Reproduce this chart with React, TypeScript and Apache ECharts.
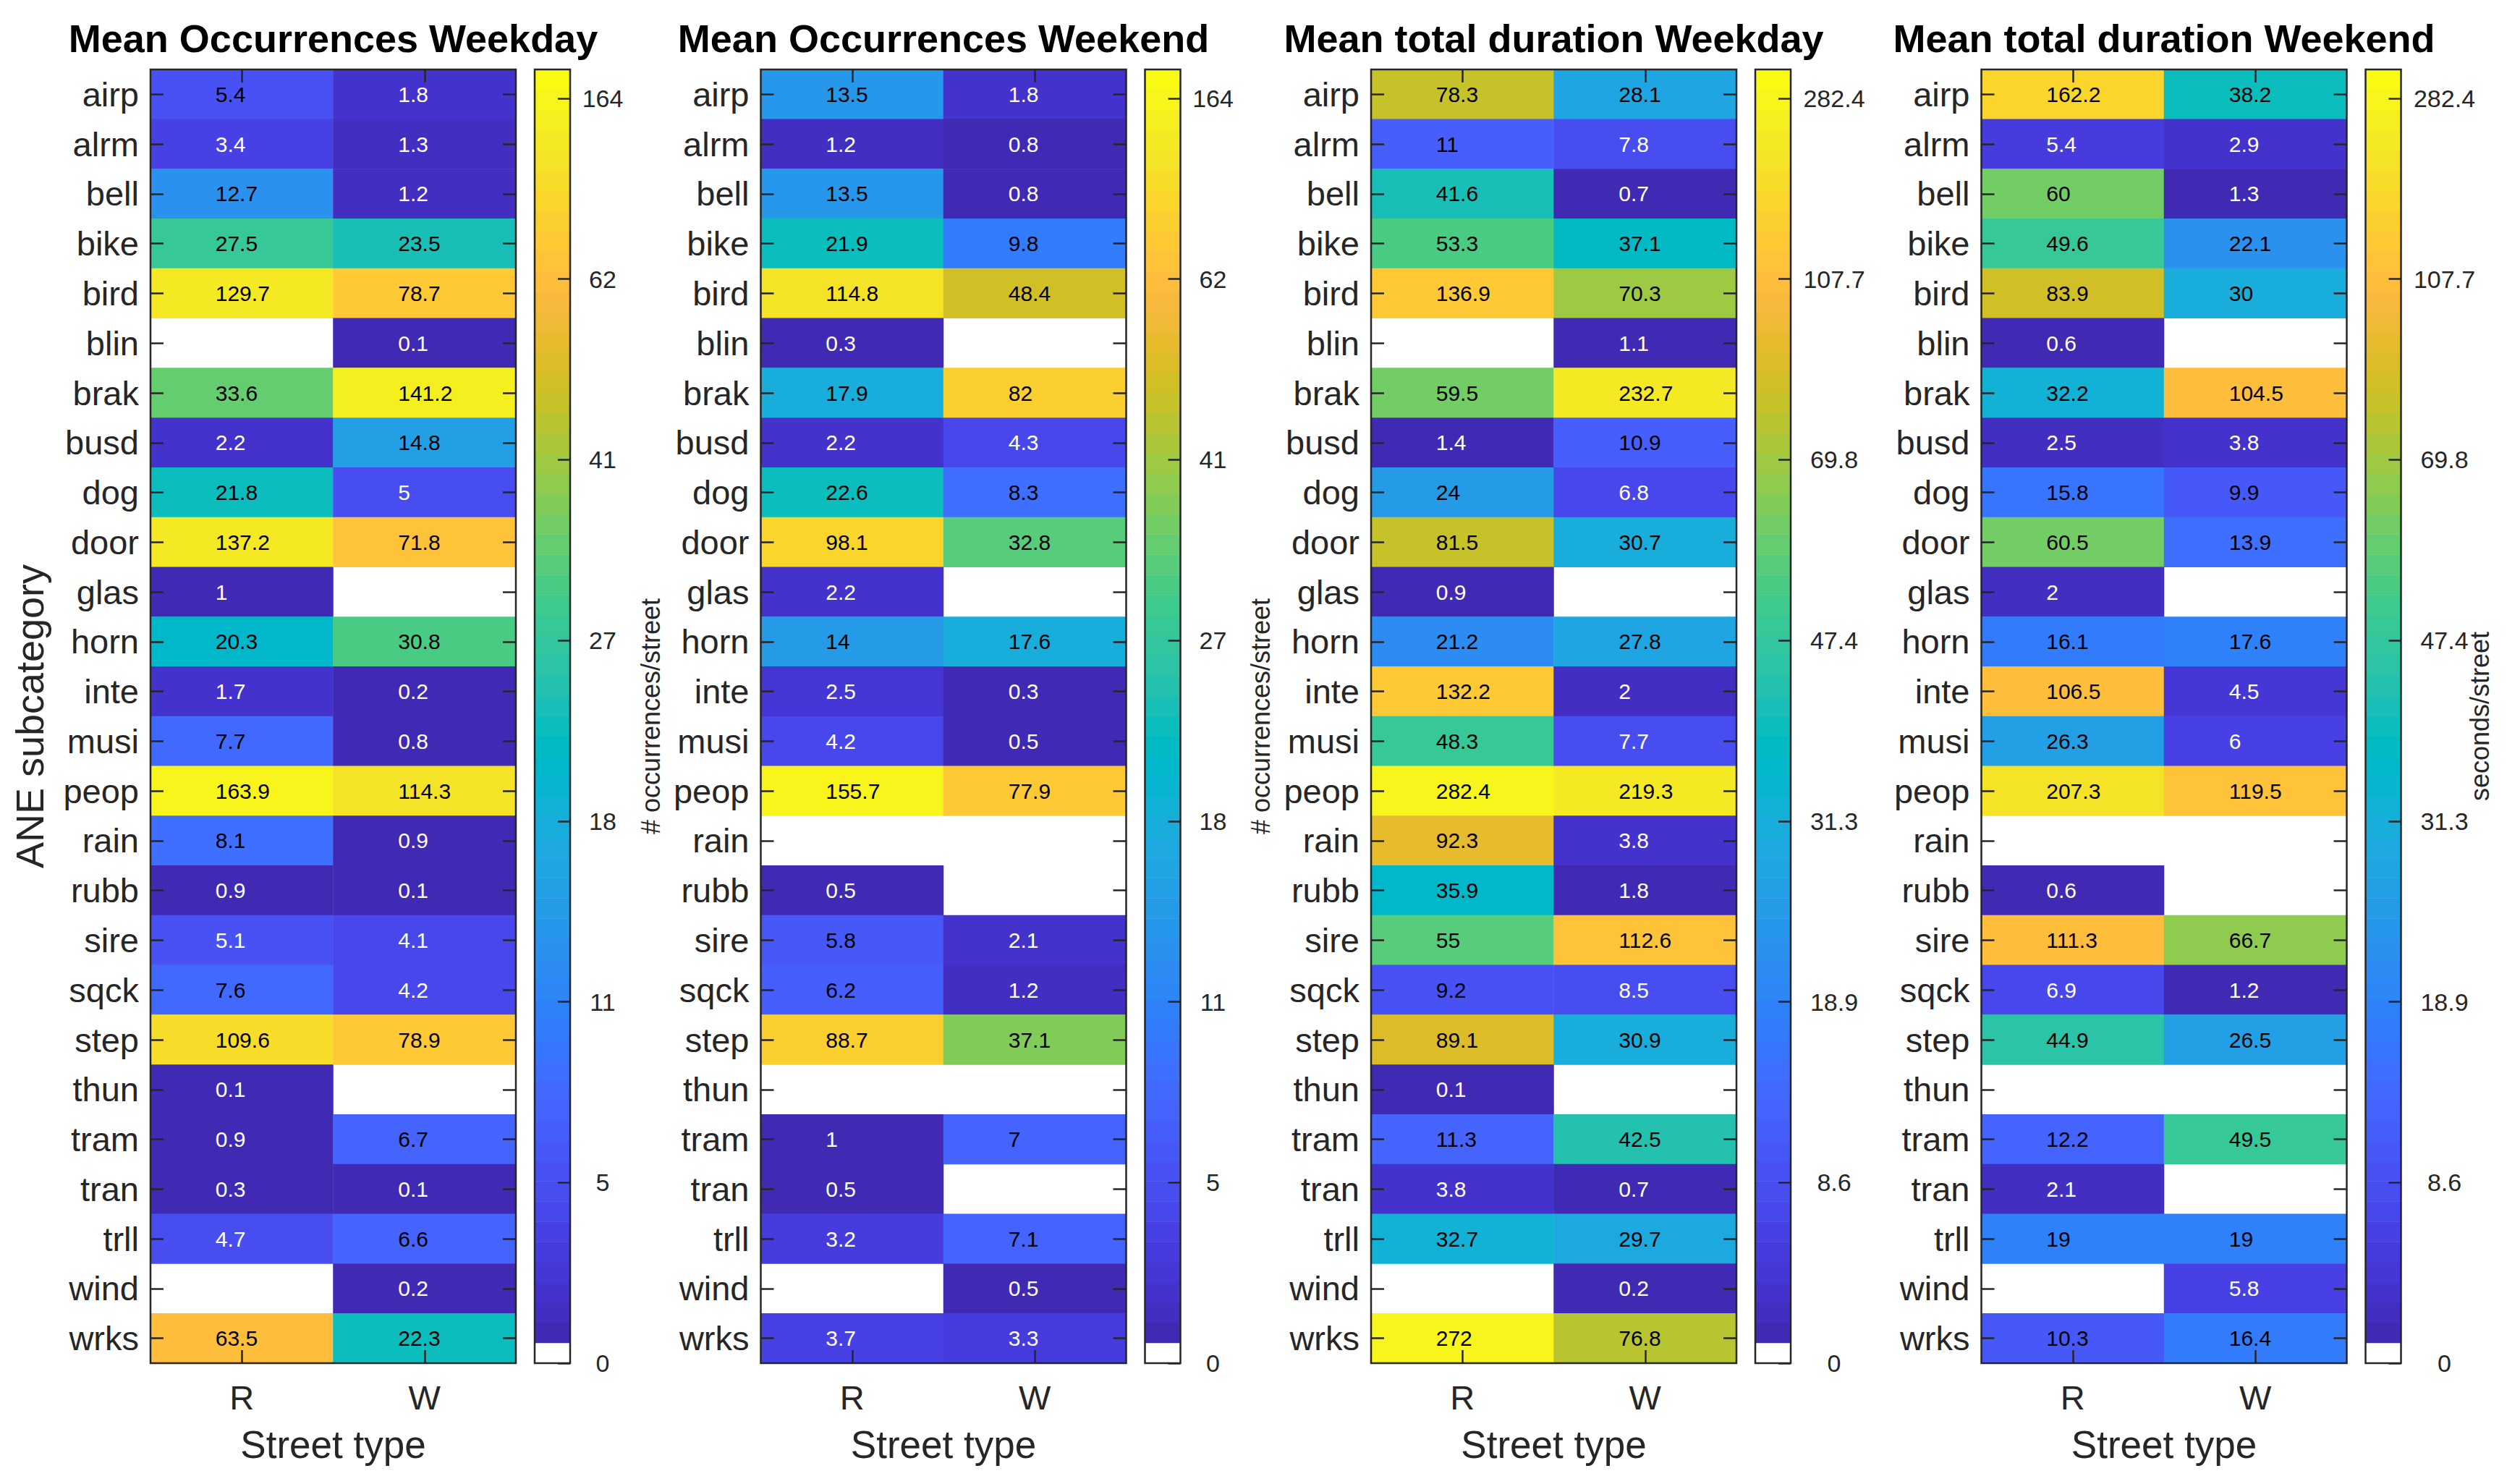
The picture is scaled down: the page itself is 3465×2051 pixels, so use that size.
import React, { useEffect, useRef } from "react";
import * as echarts from "echarts";

// ---------- data ----------
const categories = [
  "airp", "alrm", "bell", "bike", "bird", "blin", "brak", "busd", "dog", "door",
  "glas", "horn", "inte", "musi", "peop", "rain", "rubb", "sire", "sqck", "step",
  "thun", "tram", "tran", "trll", "wind", "wrks",
];
const streetTypes = ["R", "W"];

const occWeekdayR = [5.4, 3.4, 12.7, 27.5, 129.7, null, 33.6, 2.2, 21.8, 137.2, 1, 20.3, 1.7, 7.7, 163.9, 8.1, 0.9, 5.1, 7.6, 109.6, 0.1, 0.9, 0.3, 4.7, null, 63.5];
const occWeekdayW = [1.8, 1.3, 1.2, 23.5, 78.7, 0.1, 141.2, 14.8, 5, 71.8, null, 30.8, 0.2, 0.8, 114.3, 0.9, 0.1, 4.1, 4.2, 78.9, null, 6.7, 0.1, 6.6, 0.2, 22.3];

const occWeekendR = [13.5, 1.2, 13.5, 21.9, 114.8, 0.3, 17.9, 2.2, 22.6, 98.1, 2.2, 14, 2.5, 4.2, 155.7, null, 0.5, 5.8, 6.2, 88.7, null, 1, 0.5, 3.2, null, 3.7];
const occWeekendW = [1.8, 0.8, 0.8, 9.8, 48.4, null, 82, 4.3, 8.3, 32.8, null, 17.6, 0.3, 0.5, 77.9, null, null, 2.1, 1.2, 37.1, null, 7, null, 7.1, 0.5, 3.3];

const durWeekdayR = [78.3, 11, 41.6, 53.3, 136.9, null, 59.5, 1.4, 24, 81.5, 0.9, 21.2, 132.2, 48.3, 282.4, 92.3, 35.9, 55, 9.2, 89.1, 0.1, 11.3, 3.8, 32.7, null, 272];
const durWeekdayW = [28.1, 7.8, 0.7, 37.1, 70.3, 1.1, 232.7, 10.9, 6.8, 30.7, null, 27.8, 2, 7.7, 219.3, 3.8, 1.8, 112.6, 8.5, 30.9, null, 42.5, 0.7, 29.7, 0.2, 76.8];

const durWeekendR = [162.2, 5.4, 60, 49.6, 83.9, 0.6, 32.2, 2.5, 15.8, 60.5, 2, 16.1, 106.5, 26.3, 207.3, null, 0.6, 111.3, 6.9, 44.9, null, 12.2, 2.1, 19, null, 10.3];
const durWeekendW = [38.2, 2.9, 1.3, 22.1, 30, null, 104.5, 3.8, 9.9, 13.9, null, 17.6, 4.5, 6, 119.5, null, null, 66.7, 1.2, 26.5, null, 49.5, null, 19, 5.8, 16.4];

const occTicks = [0, 5, 11, 18, 27, 41, 62, 164];
const durTicks = [0, 8.6, 18.9, 31.3, 47.4, 69.8, 107.7, 282.4];

const titles = ["Mean Occurrences Weekday", "Mean Occurrences Weekend", "Mean total duration Weekday", "Mean total duration Weekend"];

// ---------- colormap (parula, 64) ----------
const parula: number[][] = [
  [0.2422, 0.1504, 0.6603], [0.2504, 0.165, 0.7076], [0.2578, 0.1818, 0.7511], [0.2647, 0.1978, 0.7952],
  [0.2706, 0.2147, 0.8364], [0.2751, 0.2342, 0.871], [0.2783, 0.2559, 0.8991], [0.2803, 0.2782, 0.9221],
  [0.2813, 0.3006, 0.9414], [0.281, 0.3228, 0.9579], [0.2795, 0.3447, 0.9717], [0.276, 0.3667, 0.9829],
  [0.2699, 0.3892, 0.9906], [0.2602, 0.4123, 0.9952], [0.244, 0.4358, 0.9988], [0.2206, 0.4603, 0.9973],
  [0.1963, 0.4847, 0.9892], [0.1834, 0.5074, 0.9798], [0.1786, 0.5289, 0.9682], [0.1764, 0.5499, 0.952],
  [0.1687, 0.5703, 0.9359], [0.154, 0.5902, 0.9218], [0.146, 0.6091, 0.9079], [0.138, 0.6276, 0.8973],
  [0.1248, 0.6459, 0.8883], [0.1113, 0.6635, 0.8763], [0.0952, 0.6798, 0.8598], [0.0689, 0.6948, 0.8394],
  [0.0297, 0.7082, 0.8163], [0.0036, 0.7203, 0.7917], [0.0067, 0.7312, 0.766], [0.0433, 0.7411, 0.7394],
  [0.0964, 0.75, 0.712], [0.1408, 0.7584, 0.6842], [0.1717, 0.767, 0.6554], [0.1938, 0.7758, 0.6251],
  [0.2161, 0.7843, 0.5923], [0.247, 0.7918, 0.5567], [0.2906, 0.7973, 0.5188], [0.3406, 0.8008, 0.4789],
  [0.3909, 0.8029, 0.4354], [0.4456, 0.8024, 0.3909], [0.5044, 0.7993, 0.348], [0.5616, 0.7942, 0.3045],
  [0.6174, 0.7876, 0.2612], [0.672, 0.7793, 0.2227], [0.7242, 0.7698, 0.191], [0.7738, 0.7598, 0.1646],
  [0.8203, 0.7498, 0.1535], [0.8634, 0.7406, 0.1596], [0.9035, 0.733, 0.1774], [0.9393, 0.7288, 0.21],
  [0.9728, 0.7298, 0.2394], [0.9956, 0.7434, 0.2371], [0.997, 0.7659, 0.2199], [0.9952, 0.7893, 0.2028],
  [0.9892, 0.8136, 0.1885], [0.9786, 0.8386, 0.1766], [0.9676, 0.8639, 0.1643], [0.961, 0.889, 0.1537],
  [0.9597, 0.9135, 0.1423], [0.9628, 0.9373, 0.1265], [0.9691, 0.9606, 0.1064], [0.9769, 0.9839, 0.0805],
];
const toRgb = (c: number[]) => `rgb(${Math.round(c[0] * 255)},${Math.round(c[1] * 255)},${Math.round(c[2] * 255)})`;

const NB = 64;
const T_MAX = 7.16;
const BW = T_MAX / NB;

// position on the colour bar: linear in the first segment, logarithmic between the other ticks
function toT(v: number, ticks: number[]) {
  const n = ticks.length - 1;
  if (v <= ticks[1]) return v / ticks[1];
  for (let i = 1; i < n; i++) {
    if (v <= ticks[i + 1]) return i + Math.log(v / ticks[i]) / Math.log(ticks[i + 1] / ticks[i]);
  }
  return n - 1 + Math.log(v / ticks[n - 1]) / Math.log(ticks[n] / ticks[n - 1]);
}
function fromT(t: number, ticks: number[]) {
  if (t <= 1) return t * ticks[1];
  const i = Math.min(Math.floor(t), ticks.length - 2);
  return ticks[i] * Math.pow(ticks[i + 1] / ticks[i], t - i);
}
function makePieces(ticks: number[]) {
  const pieces: any[] = [{ lte: 0, color: "#ffffff" }];
  for (let k = 1; k < NB; k++) {
    const p: any = { gt: k === 1 ? 0 : fromT(k * BW, ticks), color: toRgb(parula[k]) };
    if (k < NB - 1) p.lte = fromT((k + 1) * BW, ticks);
    pieces.push(p);
  }
  return pieces;
}

const FONT = "Liberation Sans";
const AX = "#262626";
const PANEL_DX = 843.5;
const HEAT_L = 208, HEAT_W = 505, TOP = 96, H = 1788;
const CB_L = 739, CB_W = 49;

export default function App() {
  const ref = useRef<HTMLDivElement>(null);
  useEffect(() => {
    const chart = echarts.init(ref.current!, null, { renderer: "svg" });
    const panels = [
      { r: occWeekdayR, w: occWeekdayW, ticks: occTicks, margin: 45 },
      { r: occWeekendR, w: occWeekendW, ticks: occTicks, margin: 45 },
      { r: durWeekdayR, w: durWeekdayW, ticks: durTicks, margin: 60 },
      { r: durWeekendR, w: durWeekendW, ticks: durTicks, margin: 60 },
    ];
    const grid: any[] = [];
    const xAxis: any[] = [];
    const yAxis: any[] = [];
    const series: any[] = [];
    const graphic: any[] = [];
    const occSeries: number[] = [];
    const durSeries: number[] = [];
    const tickStyle = { color: AX, width: 2.5 };

    panels.forEach((p, pi) => {
      const ox = pi * PANEL_DX;
      const gH = grid.length;
      grid.push({ left: HEAT_L + ox, top: TOP, width: HEAT_W, height: H, show: true, z: 10, borderColor: AX, borderWidth: 2.5, backgroundColor: "transparent" });
      const gC = grid.length;
      grid.push({ left: CB_L + ox, top: TOP, width: CB_W, height: H, show: true, z: 10, borderColor: AX, borderWidth: 2.5, backgroundColor: "transparent" });

      const xB = xAxis.length;
      xAxis.push({
        gridIndex: gH, type: "category", data: streetTypes, position: "bottom", z: 11,
        axisLine: { show: false },
        axisTick: { show: true, inside: true, alignWithLabel: true, length: 18, lineStyle: tickStyle },
        axisLabel: { fontSize: 47, margin: 24, color: AX, fontFamily: FONT },
        splitLine: { show: false },
        name: "Street type", nameLocation: "middle", nameGap: 86,
        nameTextStyle: { fontSize: 53, color: AX, fontFamily: FONT },
      });
      xAxis.push({
        gridIndex: gH, type: "category", data: streetTypes, position: "top", z: 11,
        axisLine: { show: false },
        axisTick: { show: true, inside: true, alignWithLabel: true, length: 18, lineStyle: tickStyle },
        axisLabel: { show: false }, splitLine: { show: false },
      });
      const xC = xAxis.length;
      xAxis.push({ gridIndex: gC, type: "category", data: [""], show: false });

      const yL = yAxis.length;
      yAxis.push({
        gridIndex: gH, type: "category", data: categories, inverse: true, position: "left", z: 11,
        axisLine: { show: false },
        axisTick: { show: true, inside: true, alignWithLabel: true, length: 18, lineStyle: tickStyle },
        axisLabel: { fontSize: 47, margin: 16, color: AX, fontFamily: FONT },
        splitLine: { show: false },
      });
      yAxis.push({
        gridIndex: gH, type: "category", data: categories, inverse: true, position: "right", z: 11,
        axisLine: { show: false },
        axisTick: { show: true, inside: true, alignWithLabel: true, length: 18, lineStyle: tickStyle },
        axisLabel: { show: false }, splitLine: { show: false },
      });
      const yC = yAxis.length;
      yAxis.push({ gridIndex: gC, type: "category", data: Array.from({ length: NB }, (_, k) => String(k)), show: false });
      const tickIdx = p.ticks.map((_, i) => i);
      yAxis.push({
        gridIndex: gC, type: "value", min: 0, max: T_MAX, position: "right", z: 11,
        axisLine: { show: false },
        axisTick: { show: true, inside: true, length: 17, lineStyle: tickStyle, customValues: tickIdx },
        axisLabel: {
          customValues: tickIdx, fontSize: 34, color: AX, fontFamily: FONT, align: "center", margin: p.margin,
          formatter: (v: number) => {
            const i = Math.round(v);
            return Math.abs(v - i) < 1e-6 && i < p.ticks.length ? String(p.ticks[i]) : "";
          },
        },
        splitLine: { show: false },
      });

      const data: any[] = [];
      [p.r, p.w].forEach((col, ci) => {
        col.forEach((v, ri) => {
          if (v === null || v === undefined) return;
          const t = toT(v as number, p.ticks);
          data.push({ value: [ci, ri, v], label: { color: t >= 1.04 ? "#000000" : "#ffffff" } });
        });
      });
      const sIdx = series.length;
      series.push({
        type: "heatmap", xAxisIndex: xB, yAxisIndex: yL, data, z: 2,
        label: {
          show: true, position: "insideLeft", distance: 90, fontSize: 30, fontFamily: FONT,
          formatter: (prm: any) => String(prm.value[2]),
        },
        emphasis: { disabled: true },
        itemStyle: { borderWidth: 0 },
      });
      const cbData = Array.from({ length: NB }, (_, k) => [0, k, k === 0 ? 0 : fromT((k + 0.5) * BW, p.ticks)]);
      const cIdx = series.length;
      series.push({
        type: "heatmap", xAxisIndex: xC, yAxisIndex: yC, data: cbData, z: 2,
        label: { show: false }, emphasis: { disabled: true },
      });
      if (pi < 2) occSeries.push(sIdx, cIdx); else durSeries.push(sIdx, cIdx);

      graphic.push({
        type: "text", x: HEAT_L + ox + HEAT_W / 2, y: 53,
        style: { text: titles[pi], fontSize: 54, fontWeight: "bold", fontFamily: FONT, fill: "#000", align: "center", verticalAlign: "middle" },
      });
    });

    const yLabel = (text: string, x: number, size: number) => ({
      type: "text", x, y: TOP + H / 2, rotation: Math.PI / 2,
      style: { text, fontSize: size, fontFamily: FONT, fill: AX, align: "center", verticalAlign: "middle" },
    });
    graphic.push(yLabel("ANE subcategory", 41, 54));
    graphic.push(yLabel("# occurrences/street", 899, 36));
    graphic.push(yLabel("# occurrences/street", 899 + PANEL_DX, 36));
    graphic.push(yLabel("seconds/street", 3427, 36));

    chart.setOption({
      animation: false,
      backgroundColor: "#ffffff",
      textStyle: { fontFamily: FONT },
      grid, xAxis, yAxis, series, graphic,
      visualMap: [
        { type: "piecewise", show: false, seriesIndex: occSeries, dimension: 2, pieces: makePieces(occTicks) },
        { type: "piecewise", show: false, seriesIndex: durSeries, dimension: 2, pieces: makePieces(durTicks) },
      ],
    });
    return () => chart.dispose();
  }, []);
  return <div ref={ref} style={{ position: "absolute", left: 0, top: 0, width: 3465, height: 2051 }} />;
}
